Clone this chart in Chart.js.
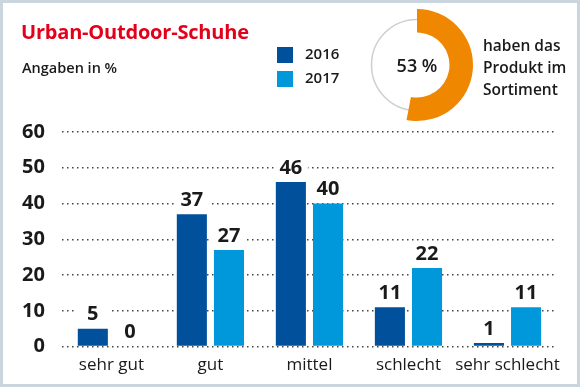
<!DOCTYPE html>
<html>
<head>
<meta charset="utf-8">
<script src="https://cdn.jsdelivr.net/npm/chart.js@4/dist/chart.umd.min.js"></script>
<style>
  html, body { margin:0; padding:0; }
  body { width:580px; height:387px; position:relative; overflow:hidden; background:#fff; font-family:"Open Sans", sans-serif; color:#1a1a1a; }
  .frame { position:absolute; left:0; top:0; width:574px; height:381px; border:3px solid #c9d5df; pointer-events:none; z-index:5; }
  #main { position:absolute; left:0; top:0; }
  #ring { position:absolute; left:357px; top:5px; }
  .title { position:absolute; left:21px; top:18px; font-size:20px; font-weight:700; color:#e2001a; letter-spacing:-0.2px; }
  .sub { position:absolute; left:22px; top:58px; font-size:14.5px; font-weight:600; }
  .leg { position:absolute; left:277px; font-size:15px; font-weight:600; }
  .leg i { position:absolute; left:0; top:2px; width:16px; height:16px; }
  .leg span { position:absolute; left:28px; top:-2px; }
  .pct { position:absolute; left:385px; top:53px; width:64px; text-align:center; font-size:18px; font-weight:600; }
  .note { position:absolute; left:483px; top:34px; font-size:15.5px; font-weight:600; line-height:22px; }
</style>
</head>
<body>
<div class="frame"></div>
<canvas id="main" width="580" height="387"></canvas>
<canvas id="ring" width="120" height="120"></canvas>
<div class="title">Urban-Outdoor-Schuhe</div>
<div class="sub">Angaben in %</div>
<div class="leg" style="top:45px"><i style="background:#00509b"></i><span>2016</span></div>
<div class="leg" style="top:69px"><i style="background:#0098db"></i><span>2017</span></div>
<div class="pct">53 %</div>
<div class="note">haben das<br>Produkt im<br>Sortiment</div>
<script>
// ===== Data =====
const categories = ['sehr gut', 'gut', 'mittel', 'schlecht', 'sehr schlecht'];
const values2016 = [5, 37, 46, 11, 1];
const values2017 = [0, 27, 40, 22, 11];
const yTicks = [0, 10, 20, 30, 40, 50, 60];
const sharePct = 53;

const DARK = '#00509b', LIGHT = '#0098db', ORANGE = '#f08700';

// value labels above bars, with a white box that hides the dotted grid
const barLabels = {
  id: 'barLabels',
  afterDatasetsDraw(chart) {
    const ctx = chart.ctx;
    ctx.save();
    ctx.font = '700 20px "Open Sans"';
    ctx.textAlign = 'center';
    ctx.textBaseline = 'bottom';
    chart.data.datasets.forEach((ds, i) => {
      chart.getDatasetMeta(i).data.forEach((bar, j) => {
        const w = bar.width;
        const top = bar.y - 27;
        ctx.fillStyle = '#fff';
        ctx.fillRect(bar.x - w/2 - 2, top, w + 4, bar.y - top - 1);
        ctx.fillStyle = '#1a1a1a';
        ctx.fillText(String(ds.data[j]), bar.x, bar.y - 4);
      });
    });
    ctx.restore();
  }
};

new Chart(document.getElementById('main'), {
  type: 'bar',
  data: {
    labels: categories,
    datasets: [
      { label: '2016', data: values2016, backgroundColor: DARK },
      { label: '2017', data: values2017, backgroundColor: LIGHT }
    ]
  },
  options: {
    responsive: false, animation: false,
    layout: { padding: { top: 132, left: 5, right: 23, bottom: 12 } },
    datasets: { bar: { categoryPercentage: 0.75, barPercentage: 0.81 } },
    plugins: { legend: { display: false }, tooltip: { enabled: false } },
    scales: {
      x: {
        grid: { display: false }, border: { display: false },
        ticks: { color: '#1a1a1a', font: { family: 'Open Sans', size: 17, weight: 500 }, padding: 0, maxRotation: 0, minRotation: 0, autoSkip: false }
      },
      y: {
        min: yTicks[0], max: yTicks[yTicks.length - 1],
        border: { display: false, dash: [1.5, 3.5] },
        grid: { color: '#444', lineWidth: 1.5, drawTicks: false },
        ticks: { stepSize: yTicks[1] - yTicks[0], color: '#1a1a1a', font: { family: 'Open Sans', size: 20, weight: 700 }, padding: 17 }
      }
    }
  },
  plugins: [barLabels]
});

// thin grey circle behind the orange ring
const greyCircle = {
  id: 'greyCircle',
  beforeDatasetsDraw(chart) {
    const a = chart.chartArea, ctx = chart.ctx;
    ctx.save();
    ctx.strokeStyle = '#cfcfcf';
    ctx.lineWidth = 1.5;
    ctx.beginPath();
    ctx.arc((a.left + a.right)/2, (a.top + a.bottom)/2, 45.5, 0, Math.PI*2);
    ctx.stroke();
    ctx.restore();
  }
};

new Chart(document.getElementById('ring'), {
  type: 'doughnut',
  data: {
    labels: ['ja', 'nein'],
    datasets: [{ data: [sharePct, 100 - sharePct], backgroundColor: [ORANGE, 'rgba(0,0,0,0)'], borderWidth: 0 }]
  },
  options: {
    responsive: false, animation: false, cutout: '58%',
    layout: { padding: 4 },
    plugins: { legend: { display: false }, tooltip: { enabled: false } }
  },
  plugins: [greyCircle]
});
</script>
</body>
</html>
